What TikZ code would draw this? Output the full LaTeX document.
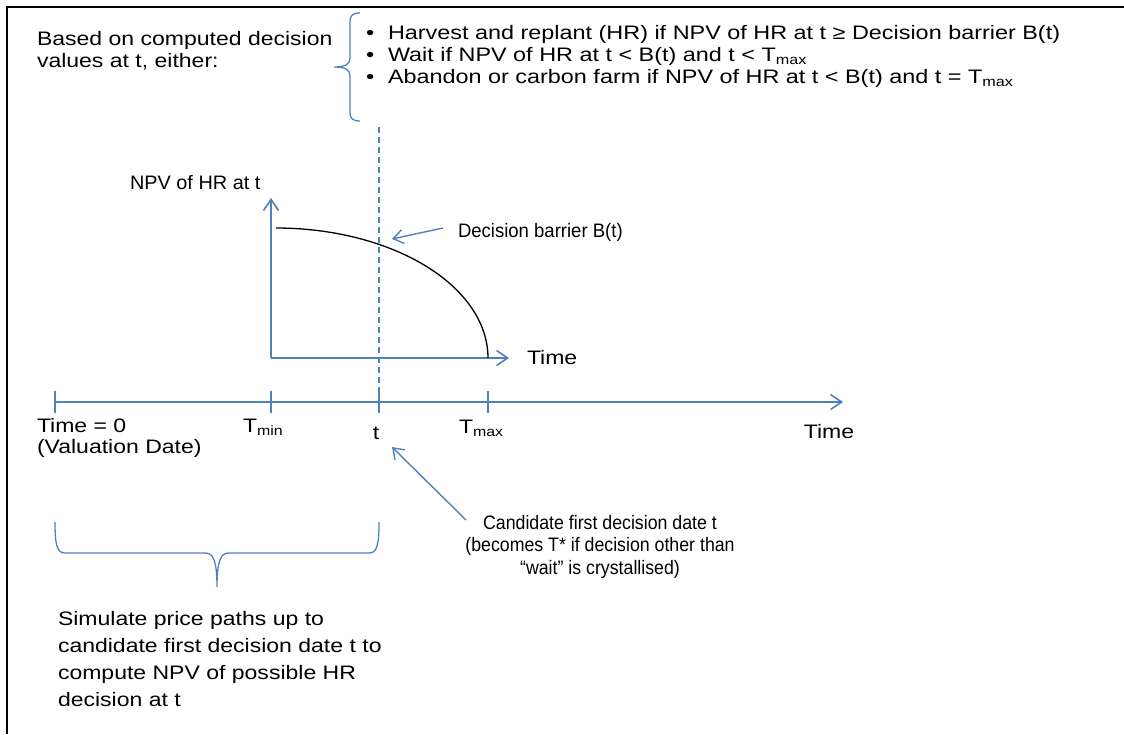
\documentclass[tikz,border=0pt]{standalone}
\usepackage{fontspec}
\setmainfont{Liberation Sans}
\newfontfamily\wideA[FakeStretch=1.18]{Liberation Sans}
\newfontfamily\wideE[FakeStretch=1.20]{Liberation Sans}
\newfontfamily\wideB[FakeStretch=1.02]{Liberation Sans}
\newfontfamily\narC[FakeStretch=0.95]{Liberation Sans}
\newfontfamily\narD[FakeStretch=0.91]{Liberation Sans}
\usetikzlibrary{arrows.meta}
\definecolor{ablue}{HTML}{4F81BD}
\newcommand\lowsub[1]{\raisebox{-0.35ex}{\fontsize{13.5}{13.5}\selectfont #1}}
\begin{document}
\begin{tikzpicture}[x=1pt,y=-1pt,
  lbl/.style={inner sep=0pt, outer sep=0pt, text=black},
  wa/.style={lbl, font=\wideA\fontsize{19.5}{#1}\selectfont},
  wa/.default=21.5,
  axisline/.style={draw=ablue, line width=1.6pt},
  arr/.style={axisline, -{Straight Barb[length=11pt,width=15pt,line width=1.6pt]}},
  thinarr/.style={draw=ablue, line width=1.4pt, -{Straight Barb[length=10pt,width=14pt,line width=1.4pt]}},
  ticks/.style={axisline},
  bracestyle/.style={draw=ablue, line width=1.3pt},
  frame/.style={draw=black, line width=2.6pt}
]
\useasboundingbox (0,0) rectangle (1124,734);
\draw[frame] (7,734) -- (7,7) -- (1124,7);

% top-left text
\node[wa=21.5, anchor=base west, align=left] (based) at (37,67)
  {Based on computed decision\\values at t, either:};

% brace at top
\draw[bracestyle] (360,13) .. controls (352,13) and (350,16) .. (350,22) -- (350,58)
  .. controls (350,64) and (346,67) .. (334,67)
  .. controls (346,67) and (350,70) .. (350,76) -- (350,112)
  .. controls (350,118) and (352,121) .. (360,121);

% bullets
\node[lbl, font=\wideE\fontsize{19.5}{22}\selectfont, anchor=base west, align=left] (bullets) at (366,83)
  {\makebox[22pt][l]{\textbullet}Harvest and replant (HR) if NPV of HR at t ≥ Decision barrier B(t)\\
   \makebox[22pt][l]{\textbullet}Wait if NPV of HR at t < B(t) and t < T\lowsub{max}\\
   \makebox[22pt][l]{\textbullet}Abandon or carbon farm if NPV of HR at t < B(t) and t = T\lowsub{max}};

% dashed line at t
\coordinate (dtop) at (379,127);
\coordinate (dbot) at (379,402);
\draw[axisline, dash pattern=on 6pt off 4pt] (dtop) -- (dbot);

% inner plot
\coordinate (o) at (271,358);
\coordinate (ytip) at (271,198);
\coordinate (xtip) at (509,358);
\draw[arr] (o) -- (ytip);
\draw[arr] (o) -- (xtip);
\node[lbl, font=\wideB\fontsize{19.5}{22}\selectfont, anchor=base west] (npv) at (130,189) {NPV of HR at t};
\node[wa, anchor=base west] (itime) at (527,364) {Time};
\draw[black, line width=1.3pt] plot[domain=90:0, samples=80] ({276+212*cos(\x)},{358-130*sin(\x)});

% decision barrier label and arrow
\node[lbl, font=\narC\fontsize{19.5}{22}\selectfont, anchor=base west] (barrier) at (458,237) {Decision barrier B(t)};
\coordinate (btail) at (443,228);
\coordinate (btip) at (392,239);
\draw[thinarr] (btail) -- (btip);

% main time axis
\coordinate (t0) at (55,402);
\coordinate (tend) at (843,402);
\draw[arr] (t0) -- (tend);
\foreach \xx in {55,271,379,488}{
  \draw[ticks] (\xx,391) -- (\xx,413);
}
\node[wa=21, anchor=base west, align=left] (time0) at (37,453) {Time = 0\\(Valuation Date)};
\node[wa, anchor=base west] (tmin) at (243,432) {T\lowsub{min}};
\node[wa, anchor=base] (tlab) at (376,439) {t};
\node[wa, anchor=base west] (tmax) at (459,433) {T\lowsub{max}};
\node[wa, anchor=base] (time) at (829,438) {Time};

% candidate label and arrow
\node[lbl, font=\narD\fontsize{19.5}{22.5}\selectfont, anchor=base, align=center] (cand) at (600,574)
  {Candidate first decision date t\\(becomes T* if decision other than\\“wait” is crystallised)};
\coordinate (ctail) at (466,520);
\coordinate (ctip) at (392,447);
\draw[thinarr] (ctail) -- (ctip);

% bottom brace
\draw[bracestyle] (55,522) .. controls (55,545) and (57,553) .. (65,553) -- (205,553)
  .. controls (213,553) and (217,560) .. (217,587)
  .. controls (217,560) and (221,553) .. (229,553) -- (369,553)
  .. controls (377,553) and (379,545) .. (379,522);

% bottom text
\node[wa=26.7, anchor=base west, align=left] (sim) at (58,706)
  {Simulate price paths up to\\candidate first decision date t to\\compute NPV of possible HR\\decision at t};
\end{tikzpicture}
\end{document}
